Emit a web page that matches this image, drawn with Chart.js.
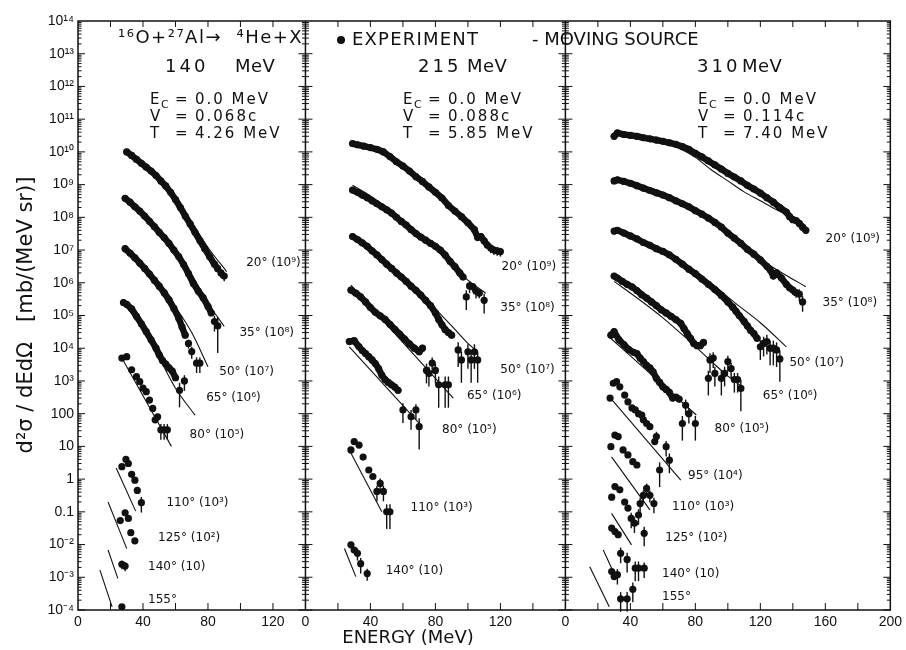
<!DOCTYPE html>
<html>
<head>
<meta charset="utf-8">
<script src="https://cdn.jsdelivr.net/npm/chart.js@4.4.0/dist/chart.umd.min.js"></script>
<style>
  html, body { margin: 0; background: #fff; }
</style>
</head>
<body>
<canvas id="spectra" width="906" height="650"></canvas>
<script>
// panels share one x axis: beam energy, where the panel starts, panel width (MeV)
const beams = ['140', '215', '310'];
const panelStart = [0, 140, 300];
const panelWidth = [140, 160, 200];
const xTicks = [[0, 40, 80, 120], [0, 40, 80, 120], [0, 40, 80, 120, 160, 200]];
const yTickValues = [1e-4, 1e-3, 1e-2, 0.1, 1, 10, 100, 1e3, 1e4, 1e5, 1e6, 1e7, 1e8, 1e9, 1e10, 1e11, 1e12, 1e13, 1e14];
const yTickLabels = ['10⁻⁴', '10⁻³', '10⁻²', '0.1', '1', '10', '100', '10³', '10⁴', '10⁵', '10⁶', '10⁷', '10⁸', '10⁹', '10¹⁰', '10¹¹', '10¹²', '10¹³', '10¹⁴'];

// moving source parameters per panel
const sourceV = ['0.068c', '0.088c', '0.114c'];
const sourceT = ['4.26 MeV', '5.85 MeV', '7.40 MeV'];

// e = alpha energy (MeV), s = d2sigma (scaled), d = relative errors of the last points,
// fe/fs = moving source curve

// ---- 140 MeV ----
const e140_20 = [30,33,36,39,42,45,48,51,54,57,60,63,66,69,72,75,78,81,84,86,88,90];
const s140_20 = [1.0e10,7.8e9,5.9e9,4.5e9,3.4e9,2.6e9,1.9e9,1.3e9,9.1e8,5.8e8,3.5e8,2.0e8,1.1e8,6.3e7,3.5e7,1.95e7,1.1e7,6.3e6,3.7e6,2.7e6,2.0e6,1.6e6];
const d140_20 = [0.3,0.3];
const fe140_20 = [29,40,50,60,70,80,91.5];
const fs140_20 = [1.1e10,4.3e9,1.5e9,3.8e8,7.0e7,1.2e7,2.2e6];

const e140_35 = [29,32,35,38,41,44,47,50,53,56,59,62,65,68,71,74,77,80,82,84,86];
const s140_35 = [3.8e8,2.9e8,2.1e8,1.55e8,1.1e8,7.6e7,5.2e7,3.5e7,2.4e7,1.6e7,1.0e7,6.3e6,3.6e6,1.9e6,9.5e5,5.6e5,3.5e5,1.9e5,1.2e5,6.5e4,4.8e4];
const d140_35 = [0.5,0.85];
const fe140_35 = [28,40,50,60,70,80,90];
const fs140_35 = [4.8e8,1.3e8,3.7e7,9.5e6,1.8e6,2.4e5,4.6e4];

const e140_50 = [29,32,35,38,41,44,47,50,53,56,59,62,64,66,68,70,73,75];
const s140_50 = [1.1e7,8.1e6,5.8e6,4.0e6,2.75e6,1.85e6,1.2e6,7.9e5,5.0e5,3.0e5,1.65e5,8.3e4,4.5e4,2.5e4,1.4e4,7.9e3,3.5e3,3.5e3];
const d140_50 = [0.3,0.4,0.5,0.5];
const fe140_50 = [28,40,50,60,70,80];
const fs140_50 = [1.25e7,3.0e6,8.0e5,1.8e5,3.0e4,2.7e3];

const e140_65 = [28,30,33,36,39,42,45,48,50,52,54,56,58,60,62.5,65.5];
const s140_65 = [2.5e5,2.2e5,1.6e5,9.5e4,5.6e4,3.2e4,1.8e4,1.0e4,6.3e3,4.2e3,3.3e3,2.5e3,2.0e3,1.25e3,5.2e2,1.0e3];
const d140_65 = [0.7,0.5];
const fe140_65 = [27,40,50,60,72];
const fs140_65 = [3.0e5,3.5e4,5.0e3,6.0e2,9.0e1];

const e140_80 = [27,30,33,36,38,40,42,44,46,47.5,49,51,53,55];
const s140_80 = [5.0e3,5.5e3,2.2e3,1.35e3,9.5e2,6.0e2,4.7e2,2.6e2,1.45e2,6.5e1,8.0e1,3.2e1,3.2e1,3.2e1];
const d140_80 = [0.5,0.5,0.5];
const fe140_80 = [27,57.5];
const fs140_80 = [5.0e3,1.0e1];

const e140_110 = [27,29.5,31,33,35,36.5,39];
const s140_110 = [2.4,4.0,3.0,1.4,0.93,0.45,0.19];
const d140_110 = [0.5];
const fe140_110 = [23.5,35.5];
const fs140_110 = [2.2,0.105];

const e140_125 = [26,29,31,32.5,35];
const s140_125 = [0.054,0.093,0.063,0.023,0.013];
const fe140_125 = [18.5,30];
const fs140_125 = [0.2,0.0075];

const e140_140 = [27,29];
const s140_140 = [2.5e-3,2.2e-3];
const d140_140 = [0.3,0.3];
const fe140_140 = [18.5,24.5];
const fs140_140 = [6.8e-3,9.3e-4];

const e140_155 = [27];
const s140_155 = [1.25e-4];
const fe140_155 = [13.5,21];
const fs140_155 = [1.65e-3,1.25e-4];

// ---- 215 MeV ----
const e215_20 = [29,32,36,40,44,48,52,56,60,64,68,72,76,80,84,88,92,96,100,104,106,108,110,112,114,116,118,120];
const s215_20 = [1.8e10,1.65e10,1.5e10,1.35e10,1.2e10,1.0e10,7.2e9,5.0e9,3.7e9,2.6e9,1.75e9,1.25e9,8.5e8,5.8e8,3.9e8,2.3e8,1.55e8,1.05e8,6.8e7,4.2e7,2.4e7,2.6e7,1.9e7,1.4e7,1.15e7,1.0e7,9.5e6,9.0e6];
const d215_20 = [0.3,0.3,0.3,0.3];
const fe215_20 = [28,40,50,60,70,80,90,100,110,118];
const fs215_20 = [2.1e10,1.2e10,7.2e9,3.3e9,1.35e9,5.0e8,1.7e8,5.8e7,2.0e7,8.5e6];

const e215_35 = [29,32,35,38,41,44,47,50,53,56,59,62,65,68,71,74,77,80,83,86,89,92,95,97,99,101,103,105,107,110];
const s215_35 = [6.8e8,5.8e8,4.8e8,4.0e8,3.2e8,2.6e8,2.1e8,1.7e8,1.35e8,1.0e8,7.5e7,5.8e7,4.2e7,3.2e7,2.5e7,2.0e7,1.6e7,1.3e7,1.0e7,7.0e6,4.5e6,3.1e6,2.0e6,1.5e6,3.7e5,8.0e5,7.6e5,5.5e5,4.8e5,2.9e5];
const d215_35 = [0.6,0.4,0.3,0.4,0.3,0.6];
const fe215_35 = [29,40,50,60,70,80,90,100,111];
const fs215_35 = [9.5e8,4.5e8,2.0e8,8.0e7,3.0e7,1.1e7,3.5e6,1.2e6,4.8e5];

const e215_50 = [29,32,35,38,41,44,47,50,53,56,59,62,65,68,71,74,77,80,82,84,86,88,90,94,96,100,102,104,106];
const s215_50 = [2.6e7,2.1e7,1.65e7,1.3e7,9.5e6,7.1e6,5.1e6,3.7e6,2.75e6,2.0e6,1.5e6,1.1e6,7.9e5,5.9e5,4.2e5,2.9e5,2.0e5,1.2e5,7.6e4,5.2e4,3.7e4,3.0e4,2.5e4,8.9e3,4.4e3,7.8e3,4.4e3,7.8e3,4.4e3];
const d215_50 = [0.7,0.8,0.7,0.8,0.7,0.8];
const fe215_50 = [28,40,50,60,70,80,90,100,106];
const fs215_50 = [3.0e7,1.1e7,4.2e6,1.5e6,5.0e5,1.6e5,4.8e4,1.4e4,7.8e3];

const e215_65 = [28,31,34,37,40,43,46,49,52,55,58,61,64,67,70,72,74.5,76,78,80,82,86,88];
const s215_65 = [6.0e5,4.8e5,3.7e5,2.6e5,1.75e5,1.25e5,9.8e4,7.6e4,5.4e4,3.8e4,2.7e4,1.9e4,1.35e4,1.0e4,7.8e3,1.0e4,2.1e3,1.7e3,3.5e3,2.1e3,7.6e2,7.6e2,7.6e2];
const d215_65 = [0.6,0.6,0.5,0.6,0.8,0.8,0.8];
const fe215_65 = [28,91];
const fs215_65 = [8.5e5,3.0e2];

const e215_80 = [27,30,33,35,37,39,41,43,45,47,49,51,53,55,57,60,65,68,70];
const s215_80 = [1.6e4,1.7e4,1.1e4,8.5e3,6.9e3,5.5e3,4.4e3,3.4e3,2.4e3,1.5e3,1.1e3,9.0e2,7.6e2,6.5e2,5.2e2,1.3e2,8.1e1,1.3e2,4.0e1];
const d215_80 = [0.6,0.6,0.5,0.8];
const fe215_80 = [27,71];
const fs215_80 = [1.1e4,4.5e1];

const e215_110 = [28,30,33,35.5,39,41.5,44,46,48,50,52];
const s215_110 = [7.8,14,11,4.7,1.9,1.2,0.42,0.74,0.42,0.1,0.1];
const d215_110 = [0.5,0.4,0.5,0.7,0.7];
const fe215_110 = [27,47];
const fs215_110 = [7.8,0.1];

const e215_140 = [28,30,32,34,38];
const s215_140 = [9.8e-3,6.8e-3,5.4e-3,2.6e-3,1.3e-3];
const d215_140 = [0.4,0.5,0.4];
const fe215_140 = [24,31];
const fs215_140 = [7.6e-3,1.05e-3];

// ---- 310 MeV ----
const e310_20 = [30,32,36,40,44,48,52,56,60,64,68,72,76,80,84,88,92,96,100,104,108,112,116,120,124,128,132,136,138,140,142,144,146,148];
const s310_20 = [3.0e10,3.8e10,3.4e10,3.2e10,3.0e10,2.7e10,2.5e10,2.3e10,2.1e10,1.9e10,1.7e10,1.45e10,1.2e10,9.0e9,7.0e9,5.3e9,4.0e9,3.0e9,2.2e9,1.7e9,1.3e9,9.5e8,7.3e8,5.5e8,4.0e8,2.9e8,2.0e8,1.45e8,1.05e8,8.5e7,8.0e7,6.5e7,5.0e7,4.0e7];
const fe310_20 = [30,45,60,70,80,90,100,110,120,130,140];
const fs310_20 = [3.6e10,2.9e10,2.0e10,1.3e10,6.8e9,2.8e9,1.3e9,6.0e8,3.2e8,1.7e8,9.8e7];

const e310_35 = [30,32,36,40,44,48,52,56,60,64,68,72,76,80,84,88,92,96,100,104,108,112,116,120,124,126,128,130,133,136,138,140,142,144,146];
const s310_35 = [1.3e9,1.4e9,1.25e9,1.1e9,9.3e8,7.8e8,6.6e8,5.6e8,4.8e8,4.0e8,3.2e8,2.6e8,2.1e8,1.6e8,1.25e8,9.5e7,7.0e7,5.0e7,3.3e7,2.3e7,1.6e7,1.05e7,7.5e6,5.0e6,3.2e6,2.5e6,1.6e6,2.0e6,1.4e6,9.0e5,7.0e5,6.0e5,5.0e5,4.5e5,2.6e5];
const d310_35 = [0.3,0.3,0.4,0.5];
const fe310_35 = [30,45,60,75,90,105,115,125,135,148];
const fs310_35 = [1.5e9,1.0e9,5.8e8,2.5e8,8.0e7,2.0e7,8.5e6,3.6e6,1.8e6,7.6e5];

const e310_50 = [30,32,36,40,44,48,52,56,60,64,68,72,76,80,84,88,92,96,100,103,105,107,110,112,114,116,118,120,122,124,126,128,130,132];
const s310_50 = [3.8e7,4.0e7,3.3e7,2.7e7,2.2e7,1.7e7,1.4e7,1.1e7,9.1e6,7.1e6,5.2e6,3.7e6,2.6e6,1.9e6,1.3e6,9.0e5,6.2e5,4.1e5,2.6e5,1.8e5,1.35e5,1.0e5,6.6e4,4.8e4,3.5e4,2.8e4,2.0e4,1.1e4,1.4e4,1.6e4,1.0e4,1.0e4,8.9e3,4.7e3];
const d310_50 = [0.6,0.6,0.6,0.7,0.7,0.7,0.8];
const fe310_50 = [30,45,60,75,90,105,120,136];
const fs310_50 = [4.5e7,2.1e7,9.0e6,3.3e6,9.5e5,2.3e5,6.0e4,1.1e4];

const e310_65 = [30,32,35,38,41,44,47,50,53,56,59,62,65,68,71,73,75,77,79,81,83,85,88,89,91,92,96,98,100,102,104,106,108];
const s310_65 = [1.6e6,1.4e6,1.1e6,9.0e5,7.5e5,5.8e5,4.3e5,3.4e5,2.6e5,2.0e5,1.5e5,1.2e5,9.5e4,7.5e4,5.8e4,4.0e4,2.8e4,2.0e4,1.4e4,1.2e4,1.2e4,1.5e4,1.2e3,4.4e3,5.0e3,1.7e3,1.2e3,1.7e3,3.9e3,2.4e3,1.1e3,1.1e3,5.9e2];
const d310_65 = [0.7,0.6,0.5,0.6,0.7,0.6,0.5,0.5,0.6,0.6,0.8];
const fe310_65 = [30,45,60,75,90,100,110];
const fs310_65 = [1.1e6,3.2e5,8.5e4,1.9e4,3.9e3,1.4e3,6.0e2];

const e310_80 = [28,30,33,36,39,42,44,46,48,50,52,54,56,58,60,62,64,66,68,70,72,74,76,80];
const s310_80 = [2.5e4,3.2e4,1.8e4,1.3e4,9.0e3,7.5e3,6.9e3,5.0e3,3.9e3,3.0e3,2.5e3,1.9e3,1.2e3,9.0e2,6.6e2,5.5e2,4.5e2,3.0e2,3.2e2,2.8e2,5.0e1,1.8e2,1.0e2,5.0e1];
const d310_80 = [0.7,0.5,0.5,0.7];
const fe310_80 = [27,80.6];
const fs310_80 = [2.2e4,9.1e1];

const e310_95 = [27.5,29.5,31.5,33.5,36.5,38.5,41,43,45,47,48,50,52,55,56,58,62,64];
const s310_95 = [3.0e2,8.5e2,9.5e2,6.6e2,3.7e2,2.3e2,1.5e2,1.3e2,1.0e2,9.0e1,6.5e1,5.0e1,4.0e1,1.4e1,2.0e1,1.9,9.8,3.8];
const d310_95 = [0.4,0.7,0.5,0.6];
const fe310_95 = [27,71];
const fs310_95 = [3.3e2,0.93];

const e310_110 = [28,30.5,32.5,35.5,38.5,41.5,44,46,48,50,52,54.5];
const s310_110 = [9.8,22,20,7.8,5.5,3.4,2.7,0.18,0.32,0.52,0.32,0.18];
const d310_110 = [0.5,0.4,0.4,0.4,0.5];
const fe310_110 = [28.4,52];
const fs310_110 = [4.8,0.115];

const e310_125 = [28.5,30.5,33.5,36.5,38.5,40.5,42.5,45,48.5];
const s310_125 = [0.28,0.59,0.47,0.2,0.13,0.063,0.045,0.08,0.022];
const d310_125 = [0.5,0.5,0.5,0.6];
const fe310_125 = [28.4,40.7];
const fs310_125 = [0.09,0.0098];

const e310_140 = [28.5,30.5,32.5,34,38,43,45,48.5];
const s310_140 = [0.032,0.025,0.02,5.4e-3,3.5e-3,1.9e-3,1.9e-3,1.9e-3];
const d310_140 = [0.5,0.6,0.6,0.6,0.5];
const fe310_140 = [23.3,29.4];
const fs310_140 = [6.8e-3,1.5e-3];

const e310_155 = [28.5,30,32,34,38,41.5];
const s310_155 = [1.5e-3,1.05e-3,1.2e-3,2.2e-4,2.2e-4,4.3e-4];
const d310_155 = [0.5,0.6,0.6,0.6];
const fe310_155 = [15,27];
const fs310_155 = [2.1e-3,1.26e-4];

// panel, angle, energies, values, tail errors, curve energies, curve values
const series = [
  [0, 20, e140_20, s140_20, d140_20, fe140_20, fs140_20],
  [0, 35, e140_35, s140_35, d140_35, fe140_35, fs140_35],
  [0, 50, e140_50, s140_50, d140_50, fe140_50, fs140_50],
  [0, 65, e140_65, s140_65, d140_65, fe140_65, fs140_65],
  [0, 80, e140_80, s140_80, d140_80, fe140_80, fs140_80],
  [0, 110, e140_110, s140_110, d140_110, fe140_110, fs140_110],
  [0, 125, e140_125, s140_125, [], fe140_125, fs140_125],
  [0, 140, e140_140, s140_140, d140_140, fe140_140, fs140_140],
  [0, 155, e140_155, s140_155, [], fe140_155, fs140_155],
  [1, 20, e215_20, s215_20, d215_20, fe215_20, fs215_20],
  [1, 35, e215_35, s215_35, d215_35, fe215_35, fs215_35],
  [1, 50, e215_50, s215_50, d215_50, fe215_50, fs215_50],
  [1, 65, e215_65, s215_65, d215_65, fe215_65, fs215_65],
  [1, 80, e215_80, s215_80, d215_80, fe215_80, fs215_80],
  [1, 110, e215_110, s215_110, d215_110, fe215_110, fs215_110],
  [1, 140, e215_140, s215_140, d215_140, fe215_140, fs215_140],
  [2, 20, e310_20, s310_20, [], fe310_20, fs310_20],
  [2, 35, e310_35, s310_35, d310_35, fe310_35, fs310_35],
  [2, 50, e310_50, s310_50, d310_50, fe310_50, fs310_50],
  [2, 65, e310_65, s310_65, d310_65, fe310_65, fs310_65],
  [2, 80, e310_80, s310_80, d310_80, fe310_80, fs310_80],
  [2, 95, e310_95, s310_95, d310_95, fe310_95, fs310_95],
  [2, 110, e310_110, s310_110, d310_110, fe310_110, fs310_110],
  [2, 125, e310_125, s310_125, d310_125, fe310_125, fs310_125],
  [2, 140, e310_140, s310_140, d310_140, fe310_140, fs310_140],
  [2, 155, e310_155, s310_155, d310_155, fe310_155, fs310_155]
];

// angle labels: panel, energy, value, text
const angleLabels = [
  [0, 103.5, 4.0e6, '20° (10⁹)'], [0, 99.4, 2.9e4, '35° (10⁸)'], [0, 87, 1.9e3, '50° (10⁷)'],
  [0, 78.9, 3.0e2, '65° (10⁶)'], [0, 68.7, 22, '80° (10⁵)'], [0, 54.4, 0.19, '110° (10³)'],
  [0, 49.3, 0.0155, '125° (10²)'], [0, 43.1, 2.1e-3, '140° (10)'], [0, 43.1, 2.0e-4, '155°'],
  [1, 120.7, 3.0e6, '20° (10⁹)'], [1, 119.9, 1.66e5, '35° (10⁸)'], [1, 119.9, 2.2e3, '50° (10⁷)'],
  [1, 99.4, 3.5e2, '65° (10⁶)'], [1, 84.1, 32, '80° (10⁵)'], [1, 64.7, 0.13, '110° (10³)'],
  [1, 49.4, 1.6e-3, '140° (10)'],
  [2, 160.1, 2.2e7, '20° (10⁹)'], [2, 158.3, 2.4e5, '35° (10⁸)'], [2, 137.9, 3.5e3, '50° (10⁷)'],
  [2, 121.5, 3.5e2, '65° (10⁶)'], [2, 91.8, 35, '80° (10⁵)'], [2, 75.5, 1.3, '95° (10⁴)'],
  [2, 65.6, 0.145, '110° (10³)'], [2, 61.5, 0.0155, '125° (10²)'], [2, 59.5, 1.3e-3, '140° (10)'],
  [2, 59.5, 2.5e-4, '155°']
];

const ink = '#111';
const font = '"DejaVu Sans", sans-serif';

const datasets = [];
series.forEach(([p, angle, e, s, d, fe, fs]) => {
  datasets.push({
    type: 'line',
    data: fe.map((x, i) => ({ x: panelStart[p] + x, y: fs[i] })),
    borderColor: ink, borderWidth: 1.1, pointRadius: 0, showLine: true, fill: false,
    cubicInterpolationMode: 'monotone'
  });
  // forward angles were measured in fine steps, so the dots run together into a band
  const band = angle <= 65 || (angle === 80 && p > 0);
  const tailStart = e.length - d.length;
  datasets.push({
    type: 'scatter',
    data: e.map((x, i) => ({ x: panelStart[p] + x, y: s[i] })),
    errs: d,
    pointRadius: 3.6, pointBackgroundColor: ink, pointBorderWidth: 0,
    showLine: band, borderColor: ink, borderWidth: 6.5,
    borderCapStyle: 'round', borderJoinStyle: 'round',
    segment: {
      borderColor: c => (c.p1DataIndex < tailStart && e[c.p1DataIndex] - e[c.p0DataIndex] <= 4.5) ? ink : 'transparent'
    }
  });
});

// x tick positions and their panel-local labels
const xTickPos = [], xTickText = [];
xTicks.forEach((list, p) => list.forEach(t => {
  if (!xTickPos.includes(panelStart[p] + t)) { xTickPos.push(panelStart[p] + t); xTickText.push(String(t)); }
}));

const inkPlugin = {
  id: 'ink',
  afterDatasetsDraw(chart) {
    const ctx = chart.ctx, ys = chart.scales.y;
    ctx.save();
    ctx.strokeStyle = ink;
    ctx.lineWidth = 1.4;
    chart.data.datasets.forEach((ds, k) => {
      if (!ds.errs || !ds.errs.length) return;
      const meta = chart.getDatasetMeta(k);
      const first = ds.data.length - ds.errs.length;
      ds.errs.forEach((r, j) => {
        const v = ds.data[first + j].y, el = meta.data[first + j];
        ctx.beginPath();
        ctx.moveTo(el.x, ys.getPixelForValue(v * (1 + r)));
        ctx.lineTo(el.x, ys.getPixelForValue(v * (1 - r)));
        ctx.stroke();
      });
    });
    ctx.restore();
  },
  afterDraw(chart) {
    const ctx = chart.ctx, xs = chart.scales.x, ys = chart.scales.y;
    const { left, right, top, bottom } = chart.chartArea;
    ctx.save();
    ctx.strokeStyle = ink;
    ctx.fillStyle = ink;

    // frame and panel dividers
    ctx.lineWidth = 1.5;
    ctx.strokeRect(left, top, right - left, bottom - top);
    const dividers = [panelStart[1], panelStart[2]].map(v => xs.getPixelForValue(v));
    dividers.forEach(x => { ctx.beginPath(); ctx.moveTo(x, top); ctx.lineTo(x, bottom); ctx.stroke(); });

    // log ticks on every vertical line
    ctx.lineWidth = 1;
    const vlines = [[left, 0, 1], [right, -1, 0]].concat(dividers.map(x => [x, -1, 1]));
    for (let d = -4; d < 14; d++) {
      for (let m = 1; m <= 9; m++) {
        const y = ys.getPixelForValue(m * Math.pow(10, d));
        const len = m === 1 ? 7 : 3.5;
        vlines.forEach(([x, a, b]) => {
          ctx.beginPath(); ctx.moveTo(x + a * len, y); ctx.lineTo(x + b * len, y); ctx.stroke();
        });
      }
    }
    // energy ticks, bottom and top
    panelStart.forEach((s, p) => {
      for (let t = 20; t < panelWidth[p]; t += 20) {
        const x = xs.getPixelForValue(s + t);
        ctx.beginPath(); ctx.moveTo(x, bottom); ctx.lineTo(x, bottom - 7); ctx.stroke();
        ctx.beginPath(); ctx.moveTo(x, top); ctx.lineTo(x, top + 6); ctx.stroke();
      }
    });

    ctx.textBaseline = 'middle';
    ctx.textAlign = 'left';

    // header
    ctx.font = '18px ' + font;
    ctx.letterSpacing = '1.5px';
    ctx.fillText('¹⁶O+²⁷Al→  ⁴He+X', 118, 38);
    ctx.beginPath(); ctx.arc(341, 40, 4, 0, Math.PI * 2); ctx.fill();
    ctx.letterSpacing = '1.2px';
    ctx.fillText('EXPERIMENT', 352, 40);
    ctx.letterSpacing = '0px';
    ctx.fillText('- MOVING SOURCE', 532, 40);

    // panel titles and source parameters
    const titleX = [[165, 235], [418, 467], [697, 742]];
    const parX = [150, 403, 698];
    panelStart.forEach((s, p) => {
      ctx.font = '18px ' + font;
      ctx.letterSpacing = '3px';
      ctx.fillText(beams[p], titleX[p][0], 67);
      ctx.letterSpacing = '0.5px';
      ctx.fillText('MeV', titleX[p][1], 67);
      ctx.font = '15px ' + font;
      ctx.letterSpacing = '2px';
      const x0 = parX[p];
      ctx.fillText('E', x0, 100);
      ctx.font = '11px ' + font;
      ctx.fillText('C', x0 + 11, 105);
      ctx.font = '15px ' + font;
      ctx.fillText('V', x0, 117);
      ctx.fillText('T', x0, 134);
      [100, 117, 134].forEach(y => ctx.fillText('=', x0 + 25, y));
      ctx.fillText('0.0 MeV', x0 + 45, 100);
      ctx.fillText(sourceV[p], x0 + 45, 117);
      ctx.fillText(sourceT[p], x0 + 45, 134);
    });
    ctx.letterSpacing = '0px';

    // angle labels
    ctx.font = '12px ' + font;
    angleLabels.forEach(([p, e, v, text]) => {
      ctx.fillText(text, xs.getPixelForValue(panelStart[p] + e), ys.getPixelForValue(v));
    });

    // axis titles
    ctx.textAlign = 'center';
    ctx.font = '18px ' + font;
    ctx.fillText('ENERGY (MeV)', 408, 638);
    ctx.translate(27, 315);
    ctx.rotate(-Math.PI / 2);
    ctx.font = '21px ' + font;
    ctx.fillText('d²σ / dEdΩ   [mb/(MeV sr)]', 0, 0);
    ctx.restore();
  }
};

new Chart(document.getElementById('spectra'), {
  type: 'scatter',
  data: { datasets: datasets },
  options: {
    responsive: false,
    animation: false,
    devicePixelRatio: 1,
    layout: { padding: { left: 0, right: 13, top: 21, bottom: 0 } },
    plugins: { legend: { display: false }, tooltip: { enabled: false } },
    scales: {
      x: {
        type: 'linear', min: 0, max: 500,
        grid: { display: false, drawTicks: false },
        border: { display: false },
        afterBuildTicks: s => { s.ticks = xTickPos.map(v => ({ value: v })); },
        afterFit: s => { s.height = 40; },
        ticks: {
          autoSkip: false, maxRotation: 0, padding: 4, color: ink,
          font: { family: '"Liberation Sans", sans-serif', size: 14 },
          callback: (v, i) => xTickText[i]
        }
      },
      y: {
        type: 'logarithmic', min: 1e-4, max: 1e14,
        grid: { display: false, drawTicks: false },
        border: { display: false },
        afterBuildTicks: s => { s.ticks = yTickValues.map(v => ({ value: v })); },
        afterFit: s => { s.width = 78; },
        ticks: {
          autoSkip: false, padding: 4, color: ink,
          font: { family: '"Liberation Sans", sans-serif', size: 14 },
          callback: (v, i) => yTickLabels[i]
        }
      }
    }
  },
  plugins: [inkPlugin]
});
</script>
</body>
</html>
